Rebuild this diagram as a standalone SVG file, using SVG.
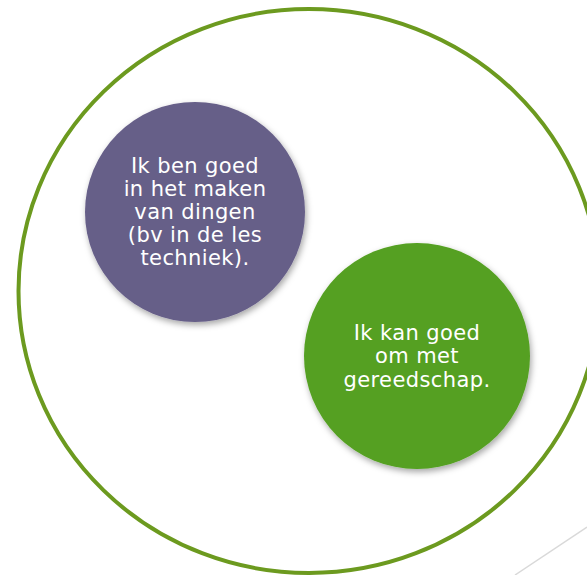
<svg xmlns="http://www.w3.org/2000/svg" width="587" height="575" viewBox="0 0 587 575">
  <defs>
    <filter id="shadow" x="-20%" y="-20%" width="140%" height="150%">
      <feDropShadow dx="1.5" dy="3" stdDeviation="3" flood-color="#000" flood-opacity="0.35"/>
    </filter>
    <style>
      .lbl { font-family: "DejaVu Sans", Verdana, sans-serif; font-size: 21px; letter-spacing: 0.4px; fill: #FFFFFF; text-anchor: middle; }
    </style>
  </defs>
  <rect width="587" height="575" fill="#FFFFFF"/>
  <g id="connectors">
    <line x1="515" y1="575" x2="587" y2="527" stroke="#D9D9D9" stroke-width="1.5"/>
  </g>
  <g id="outer">
    <ellipse cx="309" cy="291" rx="290.5" ry="282" fill="none" stroke="#6C9A1F" stroke-width="4"/>
  </g>
  <g id="node-maken">
    <circle cx="195" cy="212" r="110" fill="#665E88" filter="url(#shadow)"/>
    <text class="lbl" x="195" y="173">Ik ben goed</text>
    <text class="lbl" x="195" y="196">in het maken</text>
    <text class="lbl" x="195" y="219">van dingen</text>
    <text class="lbl" x="195" y="242">(bv in de les</text>
    <text class="lbl" x="195" y="265">techniek).</text>
  </g>
  <g id="node-gereedschap">
    <circle cx="417" cy="356" r="113" fill="#54A021" filter="url(#shadow)"/>
    <text class="lbl" x="417" y="340">Ik kan goed</text>
    <text class="lbl" x="417" y="363">om met</text>
    <text class="lbl" x="417" y="386.5">gereedschap.</text>
  </g>
</svg>
